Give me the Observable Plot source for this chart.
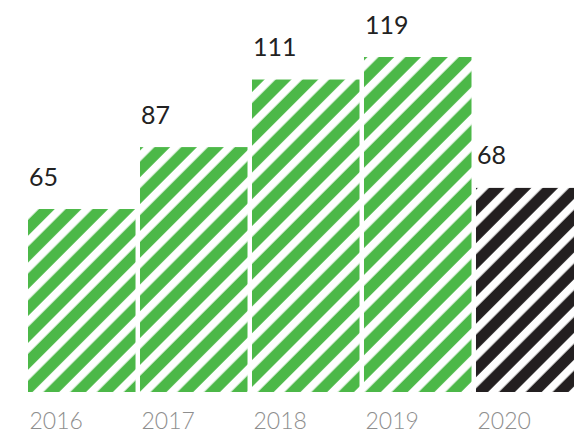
<!DOCTYPE html>
<html>
<head>
<meta charset="utf-8">
<script src="https://cdn.jsdelivr.net/npm/d3@7"></script>
<script src="https://cdn.jsdelivr.net/npm/@observablehq/plot@0.6"></script>
<style>
  html, body { margin: 0; padding: 0; background: #fff; }
  #chart svg { display: block; }
</style>
</head>
<body>
<div id="chart"></div>
<script>
const years = ["2016", "2017", "2018", "2019", "2020"];
const barValues = [65, 87, 111, 119, 72.5];
const valueLabels = ["65", "87", "111", "119", "68"];
const kinds = ["past", "past", "past", "past", "current"];

const data = years.map((year, i) => ({
  year, value: barValues[i], label: valueLabels[i], kind: kinds[i]
}));

const xRange = [28, 583.5];
const pad = 0.04;
const bw = d3.scaleBand().domain(years).range(xRange).paddingInner(pad).paddingOuter(0).bandwidth();

const W = 18.95, G = 11.2, OFF = 4.7;
const defs = () => {
  const d = d3.create("svg:defs");
  [["stripeGreen", "#4cb848"], ["stripeBlack", "#231f20"]].forEach(([id, c]) => {
    const p = d.append("pattern")
      .attr("id", id)
      .attr("patternUnits", "userSpaceOnUse")
      .attr("width", W).attr("height", W)
      .attr("patternTransform", "rotate(45)");
    p.append("rect").attr("x", 0).attr("y", 0).attr("width", W).attr("height", W).attr("fill", "#fff");
    p.append("rect").attr("x", OFF).attr("y", 0).attr("width", G).attr("height", W).attr("fill", c);
  });
  return d.node();
};

const chart = Plot.plot({
  width: 574,
  height: 436,
  style: { fontFamily: "Lato, sans-serif", background: "#fff" },
  x: { domain: years, range: xRange, paddingInner: pad, paddingOuter: 0, align: 0, round: false, axis: null },
  y: { domain: [0, 119], range: [392, 57], axis: null },
  marks: [
    defs,
    Plot.barY(data, { x: "year", y: "value", filter: d => d.kind === "past", fill: "url(#stripeGreen)" }),
    Plot.barY(data, { x: "year", y: "value", filter: d => d.kind === "current", fill: "url(#stripeBlack)" }),
    Plot.text(data, {
      x: "year", y: "value", text: "label",
      textAnchor: "start", lineAnchor: "bottom",
      dx: -bw / 2 + 0.5, dy: -24,
      fontSize: 25, fill: "#222", fontWeight: 400
    }),
    Plot.text(data, {
      x: "year", y: () => 0, text: "year",
      textAnchor: "start", lineAnchor: "bottom",
      dx: -bw / 2 + 1, dy: 36.5,
      fontSize: 23, fill: "#8e8e8e", fontWeight: 300
    })
  ]
});
document.getElementById("chart").appendChild(chart);
</script>
</body>
</html>
